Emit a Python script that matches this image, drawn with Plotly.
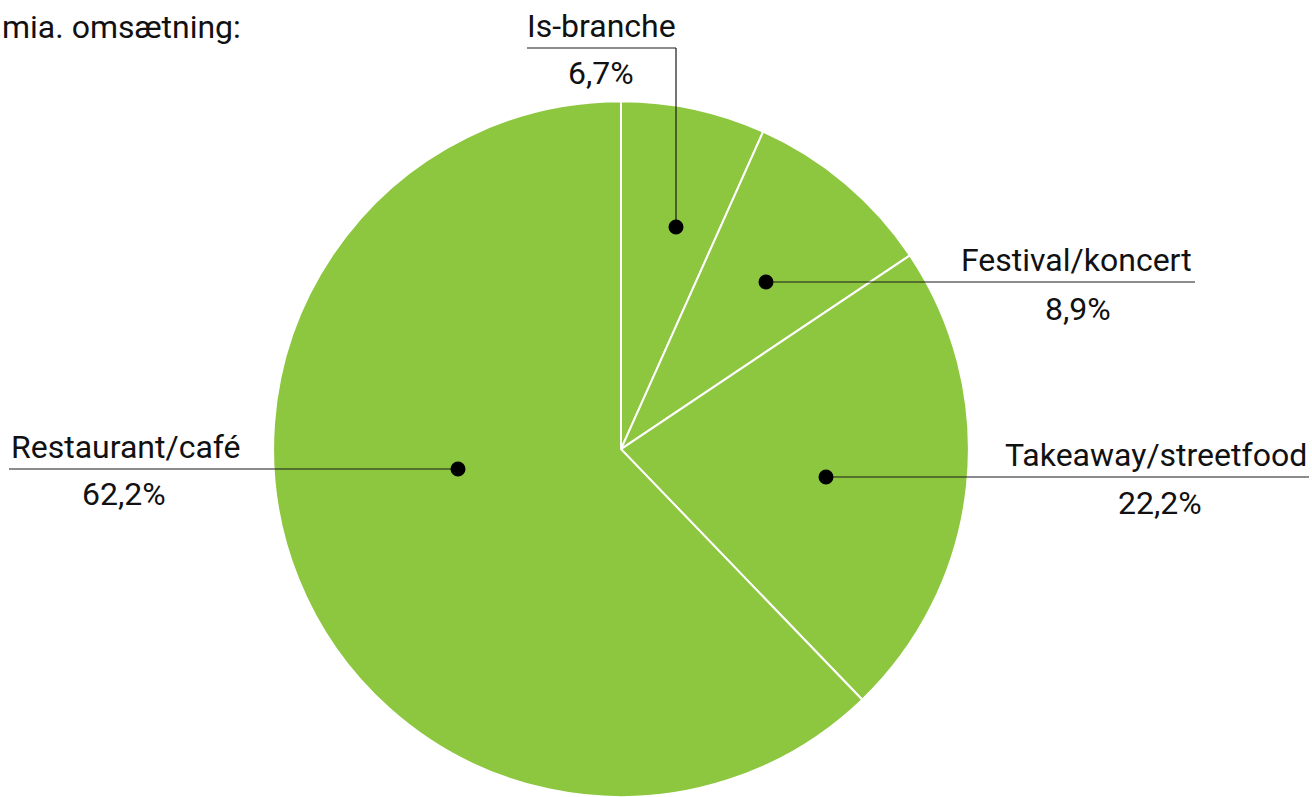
import plotly.graph_objects as go

categories = ["Is-branche", "Festival/koncert", "Takeaway/streetfood", "Restaurant/café"]
shares = [6.7, 8.9, 22.2, 62.2]
share_labels = ["6,7%", "8,9%", "22,2%", "62,2%"]
title_text = "mia. omsætning:"

W, H = 1312, 797
GREEN = "#8dc63f"
FONT = "Roboto"
FS = 32

def px(x):
    return x / W

def py(y):
    return 1 - y / H

fig = go.Figure()
fig.add_trace(go.Pie(
    labels=categories, values=shares, sort=False, direction="clockwise",
    rotation=0, textinfo="none", hoverinfo="label+percent",
    marker=dict(colors=[GREEN] * 4, line=dict(color="white", width=2)),
    domain=dict(x=[273 / W, 969 / W], y=[0, 0.873]),
    showlegend=False,
))

# label layout (pixel positions of callouts)
callouts = [
    dict(dot=(676, 227), path=[(676, 227), (676, 48), (527, 48)],
         name=(601, 26, "center"), val=(601, 73, "center")),
    dict(dot=(766, 282), path=[(766, 282), (1195, 282)],
         name=(1194, 260, "right"), val=(1078, 309, "center")),
    dict(dot=(826, 477), path=[(826, 477), (1309, 477)],
         name=(1309, 455, "right"), val=(1160, 503, "center")),
    dict(dot=(458, 469), path=[(458, 469), (9, 469)],
         name=(9, 447, "left"), val=(124, 494, "center")),
]

shapes = []
annotations = []
for i, c in enumerate(callouts):
    pts = c["path"]
    for (x0, y0), (x1, y1) in zip(pts[:-1], pts[1:]):
        shapes.append(dict(type="line", xref="paper", yref="paper",
                           x0=px(x0), y0=py(y0), x1=px(x1), y1=py(y1),
                           line=dict(color="#1a1a1a", width=1.2), layer="above"))
    dx, dy = c["dot"]
    r = 7.5
    shapes.append(dict(type="circle", xref="paper", yref="paper",
                       x0=px(dx - r), x1=px(dx + r), y0=py(dy + r), y1=py(dy - r),
                       fillcolor="black", line=dict(color="black", width=0), layer="above"))
    nx, ny, na = c["name"]
    annotations.append(dict(x=px(nx), y=py(ny), xref="paper", yref="paper",
                            text=categories[i], showarrow=False, xanchor=na, yanchor="middle",
                            font=dict(family=FONT, size=FS, color="#111")))
    vx, vy, va = c["val"]
    annotations.append(dict(x=px(vx), y=py(vy), xref="paper", yref="paper",
                            text=share_labels[i], showarrow=False, xanchor=va, yanchor="middle",
                            font=dict(family=FONT, size=FS, color="#111")))

annotations.append(dict(x=px(0), y=py(27), xref="paper", yref="paper",
                        text=title_text, showarrow=False, xanchor="left", yanchor="middle",
                        font=dict(family=FONT, size=FS, color="#111")))

fig.update_layout(
    width=W, height=H, margin=dict(l=0, r=0, t=0, b=0),
    paper_bgcolor="white", plot_bgcolor="white",
    shapes=shapes, annotations=annotations,
)

fig.write_html("out.html", config={"displayModeBar": False},
               post_script="document.body.style.margin='0';document.body.style.overflow='hidden';")
